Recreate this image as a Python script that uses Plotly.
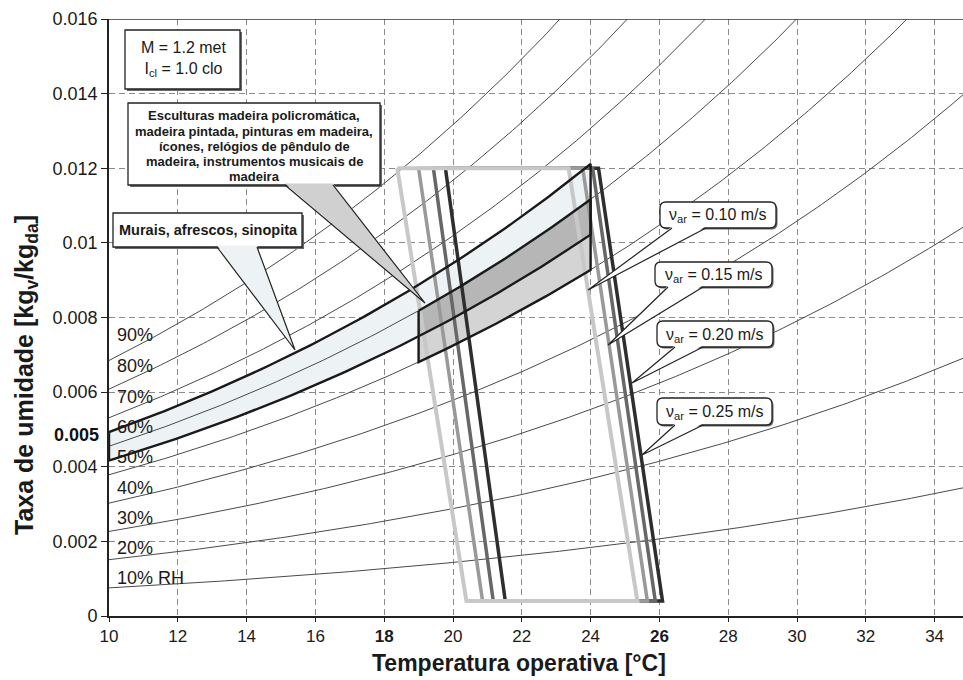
import numpy as np
import plotly.graph_objects as go

# ---------------- data ----------------
rh_levels = [10, 20, 30, 40, 50, 60, 70, 80, 90]
rh_labels = ["10% RH", "20%", "30%", "40%", "50%", "60%", "70%", "80%", "90%"]

x_ticks = [10, 12, 14, 16, 18, 20, 22, 24, 26, 28, 30, 32, 34]
x_tick_labels = ["10", "12", "14", "16", "<b>18</b>", "20", "22", "24", "<b>26</b>",
                 "28", "30", "32", "34"]
y_ticks = [0, 0.002, 0.004, 0.006, 0.008, 0.010, 0.012, 0.014, 0.016]
y_tick_labels = ["0", "0.002", "0.004", "0.006", "0.008", "0.01", "0.012", "0.014", "0.016"]

# comfort zones (operative temperature corners) for each air velocity
velocities = ["0.10", "0.15", "0.20", "0.25"]
zone_top_left_T = [18.38, 19.00, 19.43, 19.78]
zone_top_right_T = [23.36, 23.77, 24.06, 24.23]
zone_bottom_left_T = [20.39, 20.86, 21.17, 21.52]
zone_bottom_right_T = [25.36, 25.65, 25.88, 26.09]
zone_W_top = 0.012
zone_W_bottom = 0.0004

# humidity bands for objects (temperature range, RH range)
murais_T = [10, 24]
murais_RH = [55, 65]
esculturas_T = [19, 24]
esculturas_RH = [50, 60]

esculturas_lines = ["Esculturas madeira policromática,", "madeira pintada, pinturas em madeira,",
                    "ícones, relógios de pêndulo de", "madeira, instrumentos musicais de",
                    "madeira"]

# ---------------- psychrometrics ----------------
P_ATM = 101.325


def psat(T):
    T = np.asarray(T, dtype=float)
    return 0.61094 * np.exp(17.625 * T / (T + 243.04))


def hum_ratio(T, rh):
    pv = rh / 100.0 * psat(T)
    return 0.622 * pv / (P_ATM - pv)


# ---------------- layout geometry helpers ----------------
W_PX, H_PX = 963, 680
ML, MT, MB, MR = 109, 19, 64, 0
PX_PER_DEG = 34.4
X_MIN = 10
X_MAX = X_MIN + (W_PX - ML - MR) / PX_PER_DEG
Y_MAX = 0.016
PLOT_W = W_PX - ML - MR
PLOT_H = H_PX - MT - MB


def px2x(px):
    return X_MIN + (px - ML) / PX_PER_DEG


def py2y(py):
    return (MT + PLOT_H - py) * Y_MAX / PLOT_H


def px2paper(px):
    return (px - ML) / PLOT_W


def py2paper(py):
    return (MT + PLOT_H - py) / PLOT_H


FONT = "Liberation Sans, Arial, Helvetica, sans-serif"

fig = go.Figure()

# ---- band fills ----
def band_poly(T_rng, rh_rng, n=80):
    T = np.linspace(T_rng[0], T_rng[1], n)
    up = hum_ratio(T, rh_rng[1])
    lo = hum_ratio(T, rh_rng[0])
    xs = np.concatenate([T, T[::-1], [T[0]]])
    ys = np.concatenate([up, lo[::-1], [up[0]]])
    return xs, ys


mx, my = band_poly(murais_T, murais_RH)
fig.add_trace(go.Scatter(x=mx, y=my, fill="toself", fillcolor="#edf2f4",
                         line=dict(width=0), mode="lines", hoverinfo="skip"))
ex, ey = band_poly(esculturas_T, esculturas_RH)
fig.add_trace(go.Scatter(x=ex, y=ey, fill="toself", fillcolor="#d4d4d4",
                         line=dict(width=0), mode="lines", hoverinfo="skip"))
ov_T = [max(murais_T[0], esculturas_T[0]), min(murais_T[1], esculturas_T[1])]
ov_RH = [max(murais_RH[0], esculturas_RH[0]), min(murais_RH[1], esculturas_RH[1])]
ox, oy = band_poly(ov_T, ov_RH)
fig.add_trace(go.Scatter(x=ox, y=oy, fill="toself", fillcolor="#b6b6b6",
                         line=dict(width=0), mode="lines", hoverinfo="skip"))

# ---- RH curves ----
Tc = np.linspace(X_MIN, X_MAX, 200)
for rh in rh_levels:
    fig.add_trace(go.Scatter(x=Tc, y=hum_ratio(Tc, rh), mode="lines",
                             line=dict(color="#4a4a4a", width=1), hoverinfo="skip"))

# ---- comfort zones (darkest first, lightest on top) ----
zone_colors = ["#c8c8c8", "#999999", "#676767", "#2e2e2e"]
zone_widths = [4, 3.5, 3.5, 3.5]
for i in reversed(range(len(velocities))):
    xs = [zone_top_left_T[i], zone_top_right_T[i], zone_bottom_right_T[i],
          zone_bottom_left_T[i], zone_top_left_T[i]]
    ys = [zone_W_top, zone_W_top, zone_W_bottom, zone_W_bottom, zone_W_top]
    fig.add_trace(go.Scatter(x=xs, y=ys, mode="lines",
                             line=dict(color=zone_colors[i], width=zone_widths[i]),
                             hoverinfo="skip"))

# ---- band outlines ----
for xs, ys in [(mx, my), (ex, ey)]:
    fig.add_trace(go.Scatter(x=xs, y=ys, mode="lines",
                             line=dict(color="#1a1a1a", width=2.4), hoverinfo="skip"))

# ---------------- decorations ----------------
shapes = []
annotations = []


def rect_px(x0, y0, x1, y1, fill="white", lw=1.3, shadow=True):
    if shadow:
        shapes.append(dict(type="rect", xref="x", yref="y",
                           x0=px2x(x0 + 2), x1=px2x(x1 + 2), y0=py2y(y0 + 2), y1=py2y(y1 + 2),
                           fillcolor="#6a6a6a", line=dict(width=0)))
    shapes.append(dict(type="rect", xref="x", yref="y",
                       x0=px2x(x0), x1=px2x(x1), y0=py2y(y0), y1=py2y(y1),
                       fillcolor=fill, line=dict(color="#222", width=lw)))


def rounded_px(x0, y0, x1, y1, r=6, dx=0, dy=0, fill="white", lc="#222", lw=1.3):
    x0, x1, y0, y1 = x0 + dx, x1 + dx, y0 + dy, y1 + dy
    pts = [("M", [(x0 + r, y0)]), ("L", [(x1 - r, y0)]), ("Q", [(x1, y0), (x1, y0 + r)]),
           ("L", [(x1, y1 - r)]), ("Q", [(x1, y1), (x1 - r, y1)]), ("L", [(x0 + r, y1)]),
           ("Q", [(x0, y1), (x0, y1 - r)]), ("L", [(x0, y0 + r)]), ("Q", [(x0, y0), (x0 + r, y0)])]
    path = ""
    for cmd, ps in pts:
        path += cmd + " " + " ".join(f"{px2x(a):.5f},{py2y(b):.7f}" for a, b in ps) + " "
    path += "Z"
    shapes.append(dict(type="path", xref="x", yref="y", path=path,
                       fillcolor=fill, line=dict(color=lc, width=lw)))


def wedge_px(bx0, bx1, by, tip, fill, lw=1.2):
    tx, ty = tip
    p_fill = (f"M {px2x(bx0):.5f},{py2y(by - 1.5):.7f} L {px2x(tx):.5f},{py2y(ty):.7f} "
              f"L {px2x(bx1):.5f},{py2y(by - 1.5):.7f} Z")
    shapes.append(dict(type="path", xref="x", yref="y", path=p_fill,
                       fillcolor=fill, line=dict(width=0)))
    p_line = (f"M {px2x(bx0):.5f},{py2y(by):.7f} L {px2x(tx):.5f},{py2y(ty):.7f} "
              f"L {px2x(bx1):.5f},{py2y(by):.7f}")
    shapes.append(dict(type="path", xref="x", yref="y", path=p_line,
                       line=dict(color="#222", width=lw)))


def text_px(px, py, txt, size, bold=False, anchor="center", angle=0, color="#1a1a1a"):
    annotations.append(dict(x=px2paper(px), y=py2paper(py), xref="paper", yref="paper",
                            text=f"<b>{txt}</b>" if bold else txt, showarrow=False,
                            xanchor=anchor, yanchor="middle", textangle=angle,
                            font=dict(family=FONT, size=size, color=color)))


# M / Icl box
rect_px(125, 30, 240, 89)
text_px(183, 59, "M = 1.2 met<br>I<sub>cl</sub> = 1.0 clo", 16)

# Esculturas callout
rect_px(128, 103, 380, 185)
wedge_px(285, 333, 185, (425, 303), "#d0d0d0")
for k, line in enumerate(esculturas_lines):
    text_px(254, 116 + 15.2 * k, line, 13, bold=True)

# Murais callout
rect_px(113, 213, 302, 247)
wedge_px(217, 257, 247, (295, 350), "#edf2f4")
text_px(208, 230, "Murais, afrescos, sinopita", 14.5, bold=True)

# velocity callouts
vel_boxes = [(660, 202, 776, 228), (655, 262, 772, 287), (657, 321, 773, 347), (657, 398, 772, 425)]
vel_bases = [(672, 706), (668, 703), (675, 703), (675, 703)]
vel_tips = [(588, 290), (608, 345), (632, 383), (642, 455)]
for v, (x0, y0, x1, y1), (b0, b1), tip in zip(velocities, vel_boxes, vel_bases, vel_tips):
    rounded_px(x0, y0, x1, y1, dx=1.5, dy=1.5, fill="#666", lc="#666", lw=0)
    rounded_px(x0, y0, x1, y1)
    wedge_px(b0, b1, y1, tip, "white")
    text_px((x0 + x1) / 2, (y0 + y1) / 2 + 1, f"ν<sub>ar</sub> = {v} m/s", 16)

# RH labels
for rh, lab in zip(rh_levels, rh_labels):
    annotations.append(dict(x=10.17, y=float(hum_ratio(11.0, rh)) + 0.0002, xref="x", yref="y",
                            text=lab, showarrow=False, xanchor="left", yanchor="middle",
                            font=dict(family=FONT, size=18, color="#1a1a1a")))

# bold 0.005 tick label
text_px(101, 435, "<b>0.005</b>", 18, anchor="right", color="#111")

# axis titles
text_px(519, 663, "Temperatura operativa [°C]", 23, bold=True)
text_px(26, 375, "Taxa de umidade [kg<sub>v</sub>/kg<sub>da</sub>]", 25, bold=True, angle=-90)

# top frame line
shapes.append(dict(type="line", xref="paper", yref="y", x0=0, x1=1, y0=Y_MAX, y1=Y_MAX,
                   line=dict(color="#333", width=1.5)))

fig.update_layout(
    width=W_PX, height=H_PX,
    margin=dict(l=ML, r=MR, t=MT, b=MB),
    paper_bgcolor="white", plot_bgcolor="white",
    showlegend=False,
    shapes=shapes, annotations=annotations,
    font=dict(family=FONT, size=18, color="#1a1a1a"),
    xaxis=dict(range=[X_MIN, X_MAX], tickvals=x_ticks, ticktext=x_tick_labels,
               showgrid=True, gridcolor="#8a8a8a", gridwidth=1.3, griddash="6px,4px",
               zeroline=False, showline=True, linecolor="#222", linewidth=1.6,
               ticks="outside", ticklen=4, tickcolor="#222", tickwidth=1.3,
               tickfont=dict(family=FONT, size=17, color="#1a1a1a")),
    yaxis=dict(range=[0, Y_MAX], tickvals=y_ticks, ticktext=y_tick_labels,
               showgrid=True, gridcolor="#8a8a8a", gridwidth=1.3, griddash="6px,4px",
               zeroline=False, showline=True, linecolor="#222", linewidth=1.6,
               ticks="outside", ticklen=6, tickcolor="#222", tickwidth=1.3,
               tickfont=dict(family=FONT, size=18, color="#1a1a1a")),
)

fig.write_html("out.html")
